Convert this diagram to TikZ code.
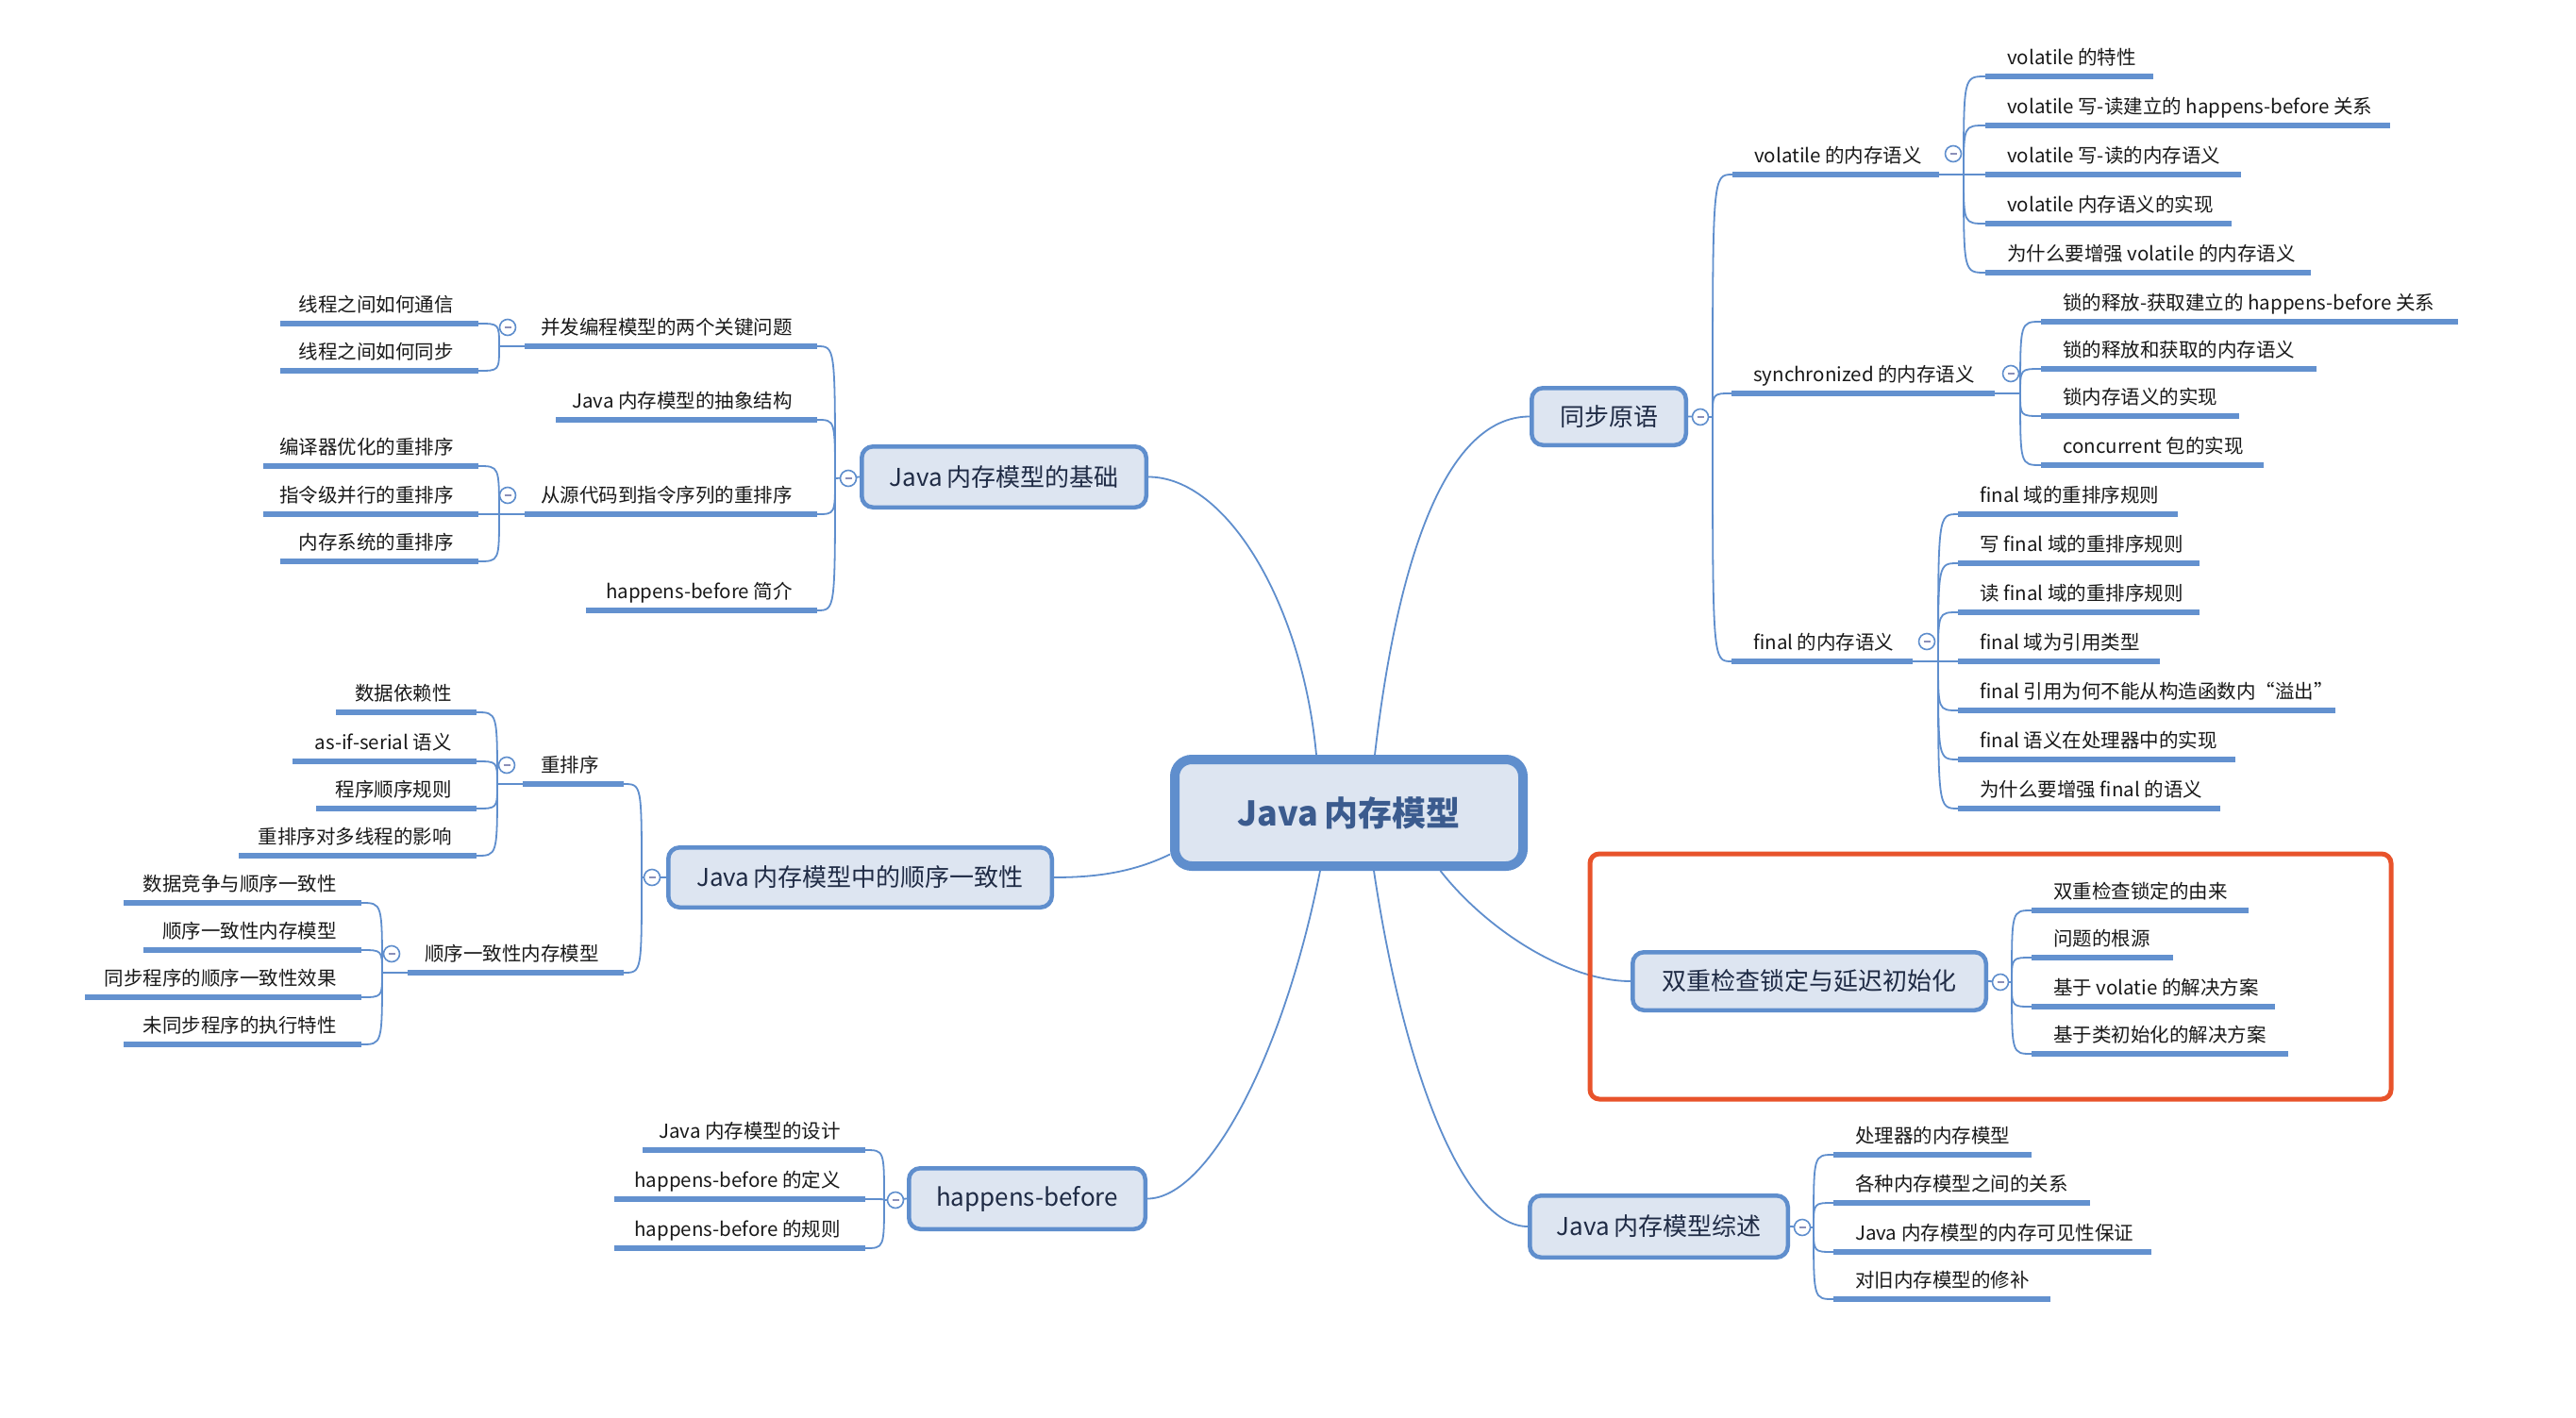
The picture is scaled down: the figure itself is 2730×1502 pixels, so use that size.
\documentclass[tikz,border=0pt]{standalone}
\usepackage{fontspec}
\setmainfont{Noto Sans CJK SC}
\usetikzlibrary{calc}
\definecolor{bfill}{HTML}{DDE5F1}
\definecolor{bline}{HTML}{5F8ECD}
\definecolor{ulcol}{HTML}{6391CF}
\definecolor{ctext}{HTML}{3B5B8E}
\definecolor{mtext}{HTML}{1F2B45}
\definecolor{redc}{HTML}{E8532B}
\definecolor{mcol}{HTML}{8B8FB8}
\pgfdeclarelayer{bg}\pgfsetlayers{bg,main}
\tikzset{
 ul/.style={line width=5.5pt, draw=ulcol},
 conn/.style={line width=1.8pt, draw=bline},
 leaf/.style={font=\fontsize{20.5}{24}\selectfont, text=black!90, inner sep=0pt},
 mainbox/.style={draw=bline, line width=4.5pt, fill=bfill, rounded corners=12pt, inner sep=0pt, font=\fontsize{26}{30}\selectfont, text=mtext},
 rootbox/.style={draw=bline, line width=10pt, fill=bfill, rounded corners=18pt, inner sep=0pt, font=\fontsize{36}{40}\selectfont\bfseries, text=ctext},
 tog/.style={circle, draw=bline, line width=1.6pt, fill=white, minimum size=17pt, inner sep=0pt},
}
\newcommand\mmR[5]{\coordinate (#1) at (#2,#4); \coordinate (#1e) at (#3,#4);
  \draw[ul] (#1) -- (#1e);
  \node[leaf, anchor=base west] (#1t) at (#2+23,#4-13) {#5};}
\newcommand\mmL[5]{\coordinate (#1e) at (#2,#4); \coordinate (#1) at (#3,#4);
  \draw[ul] (#1e) -- (#1);
  \node[leaf, anchor=base east] (#1t) at (#3-26,#4-13) {#5};}
\newcommand\mmC[2]{\begin{pgfonlayer}{bg}\draw[conn] (#1) .. controls (#1 |- #2) and (#1 |- #2) .. (#2);\end{pgfonlayer}}
\newcommand\mmT[3]{\node[tog] (#1) at (#2,#3) {\textcolor{mcol}{\rule{7pt}{1.6pt}}};}
\begin{document}
\begin{tikzpicture}[x=1pt,y=-1pt]
\begin{pgfonlayer}{bg}
\fill[white] (0,0) rectangle (2730,1502);
\end{pgfonlayer}
\useasboundingbox (0,0) rectangle (2730,1502);

% ---------- root and main boxes
\node[rootbox, minimum width=369pt, minimum height=113pt] (root) at (1429.5,861.5) {Java\,内存模型};
\node[mainbox, minimum width=163.5pt, minimum height=60.5pt] (sync) at (1705,441.5) {同步原语};
\node[mainbox, minimum width=301.5pt, minimum height=64.5pt] (base) at (1064,505.5) {Java\,内存模型的基础};
\node[mainbox, minimum width=406.5pt, minimum height=63.5pt] (seq) at (911.5,930) {Java\,内存模型中的顺序一致性};
\node[mainbox, minimum width=250.5pt, minimum height=64.5pt] (hb) at (1088.5,1270.5) {happens-before};
\node[mainbox, minimum width=374.5pt, minimum height=61.5pt] (dcl) at (1917.5,1040) {双重检查锁定与延迟初始化};
\node[mainbox, minimum width=273.5pt, minimum height=65.5pt] (sum) at (1758,1300) {Java\,内存模型综述};

% ---------- root connectors
\begin{pgfonlayer}{bg}
\draw[conn] ([xshift=-34.5pt]root.north) .. controls (1380,640) and (1300,505.5) .. (base.east);
\draw[conn] ([xshift=27.5pt]root.north) .. controls (1480,600) and (1530,441.5) .. (sync.west);
\draw[conn] ([yshift=-44pt]root.west) .. controls (1200,925) and (1160,930) .. (seq.east);
\draw[conn] ([xshift=-30.5pt]root.south) .. controls (1360,1120) and (1280,1270.5) .. (hb.east);
\draw[conn] ([xshift=26.5pt]root.south) .. controls (1490,1150) and (1555,1300) .. (sum.west);
\draw[conn] ([xshift=97pt]root.south) .. controls (1575,985) and (1660,1040) .. (dcl.west);
\end{pgfonlayer}

% ---------- toggles of main boxes and junctions
\mmT{syncT}{1802}{442} \coordinate (syncJ) at (1815,442);
\mmT{baseT}{899}{507}  \coordinate (baseJ) at (885,507);
\mmT{seqT}{691}{930}   \coordinate (seqJ) at (680,930);
\mmT{hbT}{949}{1272}   \coordinate (hbJ) at (937,1272);
\mmT{dclT}{2120}{1041} \coordinate (dclJ) at (2132,1041);
\mmT{sumT}{1910}{1301} \coordinate (sumJ) at (1922,1301);
\begin{pgfonlayer}{bg}
\draw[conn] (sync.east) -- (syncJ);
\draw[conn] (base.west) -- (baseJ);
\draw[conn] (seq.west) -- (seqJ);
\draw[conn] (hb.west) -- (hbJ);
\draw[conn] (dcl.east) -- (dclJ);
\draw[conn] (sum.east) -- (sumJ);
\end{pgfonlayer}

% ---------- 同步原语
\mmR{vol}{1836}{2055}{185}{volatile 的内存语义}
\mmR{syn}{1835}{2114}{417}{synchronized 的内存语义}
\mmR{fin}{1835}{2027}{701}{final 的内存语义}
\mmC{syncJ}{vol} \mmC{syncJ}{syn} \mmC{syncJ}{fin}
\mmT{volT}{2070}{163} \coordinate (volJ) at (2081,185);
\mmT{synT}{2131}{396} \coordinate (synJ) at (2141,417);
\mmT{finT}{2042}{680} \coordinate (finJ) at (2054,701);
\begin{pgfonlayer}{bg}
\draw[conn] (vole) -- (volJ);
\draw[conn] (syne) -- (synJ);
\draw[conn] (fine) -- (finJ);
\end{pgfonlayer}

\mmR{v1}{2104}{2282}{81}{volatile 的特性}
\mmR{v2}{2104}{2533}{133}{volatile 写-读建立的 happens-before 关系}
\mmR{v3}{2104}{2375}{185}{volatile 写-读的内存语义}
\mmR{v4}{2104}{2365}{237}{volatile 内存语义的实现}
\mmR{v5}{2104}{2449}{289}{为什么要增强 volatile 的内存语义}
\mmC{volJ}{v1} \mmC{volJ}{v2} \mmC{volJ}{v3} \mmC{volJ}{v4} \mmC{volJ}{v5}

\mmR{y1}{2163}{2605}{341}{锁的释放-获取建立的 happens-before 关系}
\mmR{y2}{2163}{2455}{391}{锁的释放和获取的内存语义}
\mmR{y3}{2163}{2373}{441}{锁内存语义的实现}
\mmR{y4}{2163}{2399}{493}{concurrent 包的实现}
\mmC{synJ}{y1} \mmC{synJ}{y2} \mmC{synJ}{y3} \mmC{synJ}{y4}

\mmR{f1}{2075}{2308}{545}{final 域的重排序规则}
\mmR{f2}{2075}{2331}{597}{写 final 域的重排序规则}
\mmR{f3}{2075}{2331}{649}{读 final 域的重排序规则}
\mmR{f4}{2075}{2289}{701}{final 域为引用类型}
\mmR{f5}{2075}{2475}{753}{final 引用为何不能从构造函数内“溢出”}
\mmR{f6}{2075}{2369}{805}{final 语义在处理器中的实现}
\mmR{f7}{2075}{2353}{857}{为什么要增强 final 的语义}
\mmC{finJ}{f1} \mmC{finJ}{f2} \mmC{finJ}{f3} \mmC{finJ}{f4} \mmC{finJ}{f5} \mmC{finJ}{f6} \mmC{finJ}{f7}

% ---------- Java内存模型的基础
\mmL{con}{556}{866}{367}{并发编程模型的两个关键问题}
\mmL{abs}{589}{866}{445}{Java 内存模型的抽象结构}
\mmL{src}{556}{866}{545}{从源代码到指令序列的重排序}
\mmL{hbi}{621}{866}{647}{happens-before 简介}
\mmC{baseJ}{con} \mmC{baseJ}{abs} \mmC{baseJ}{src} \mmC{baseJ}{hbi}
\mmT{conT}{538}{347} \coordinate (conJ) at (529,367);
\mmT{srcT}{538}{525} \coordinate (srcJ) at (529,545);
\begin{pgfonlayer}{bg}
\draw[conn] (cone) -- (conJ);
\draw[conn] (srce) -- (srcJ);
\end{pgfonlayer}
\mmL{c1}{297}{507}{343}{线程之间如何通信}
\mmL{c2}{297}{507}{393}{线程之间如何同步}
\mmC{conJ}{c1} \mmC{conJ}{c2}
\mmL{s1}{279}{507}{494}{编译器优化的重排序}
\mmL{s2}{279}{507}{545}{指令级并行的重排序}
\mmL{s3}{297}{507}{595}{内存系统的重排序}
\mmC{srcJ}{s1} \mmC{srcJ}{s2} \mmC{srcJ}{s3}

% ---------- 顺序一致性
\mmL{reo}{554}{661}{831}{重排序}
\mmL{scm}{432}{661}{1031}{顺序一致性内存模型}
\mmC{seqJ}{reo} \mmC{seqJ}{scm}
\mmT{reoT}{537}{811} \coordinate (reoJ) at (527,831);
\mmT{scmT}{415}{1011} \coordinate (scmJ) at (405,1031);
\begin{pgfonlayer}{bg}
\draw[conn] (reoe) -- (reoJ);
\draw[conn] (scme) -- (scmJ);
\end{pgfonlayer}
\mmL{r1}{356}{505}{755}{数据依赖性}
\mmL{r2}{310}{505}{807}{as-if-serial 语义}
\mmL{r3}{335}{505}{857}{程序顺序规则}
\mmL{r4}{253}{505}{907}{重排序对多线程的影响}
\mmC{reoJ}{r1} \mmC{reoJ}{r2} \mmC{reoJ}{r3} \mmC{reoJ}{r4}
\mmL{m1}{131}{383}{957}{数据竞争与顺序一致性}
\mmL{m2}{152}{383}{1007}{顺序一致性内存模型}
\mmL{m3}{90}{383}{1057}{同步程序的顺序一致性效果}
\mmL{m4}{131}{383}{1107}{未同步程序的执行特性}
\mmC{scmJ}{m1} \mmC{scmJ}{m2} \mmC{scmJ}{m3} \mmC{scmJ}{m4}

% ---------- happens-before
\mmL{h1}{681}{917}{1219}{Java 内存模型的设计}
\mmL{h2}{651}{917}{1271}{happens-before 的定义}
\mmL{h3}{651}{917}{1323}{happens-before 的规则}
\mmC{hbJ}{h1} \mmC{hbJ}{h2} \mmC{hbJ}{h3}

% ---------- 双重检查
\mmR{d1}{2153}{2383}{965}{双重检查锁定的由来}
\mmR{d2}{2153}{2303}{1015}{问题的根源}
\mmR{d3}{2153}{2411}{1067}{基于 volatie 的解决方案}
\mmR{d4}{2153}{2425}{1117}{基于类初始化的解决方案}
\mmC{dclJ}{d1} \mmC{dclJ}{d2} \mmC{dclJ}{d3} \mmC{dclJ}{d4}

% ---------- 综述
\mmR{u1}{1943}{2153}{1224}{处理器的内存模型}
\mmR{u2}{1943}{2215}{1275}{各种内存模型之间的关系}
\mmR{u3}{1943}{2280}{1327}{Java 内存模型的内存可见性保证}
\mmR{u4}{1943}{2173}{1377}{对旧内存模型的修补}
\mmC{sumJ}{u1} \mmC{sumJ}{u2} \mmC{sumJ}{u3} \mmC{sumJ}{u4}

% ---------- red highlight frame
\draw[redc, line width=5pt, rounded corners=10pt] (1685,905) rectangle (2534,1165);
\end{tikzpicture}
\end{document}
